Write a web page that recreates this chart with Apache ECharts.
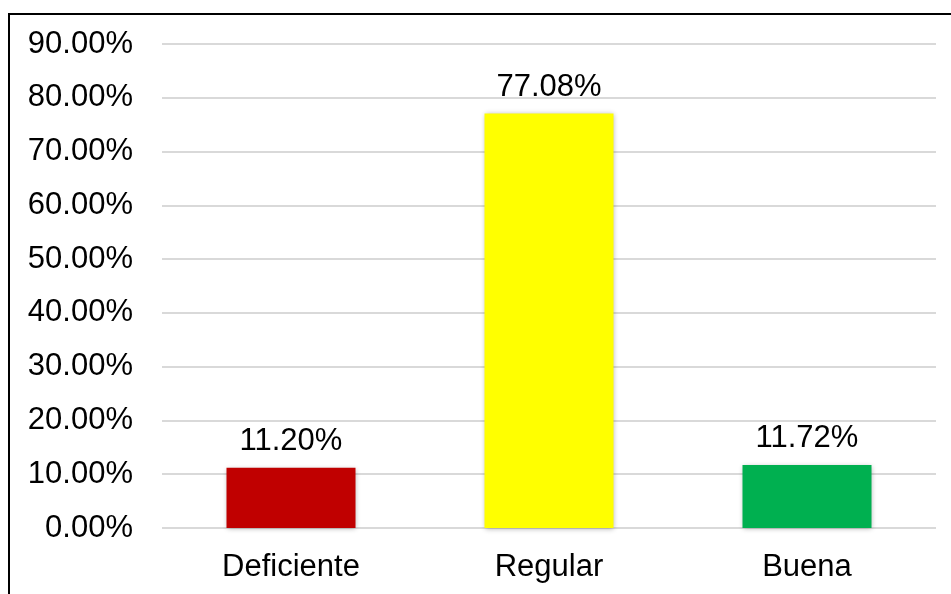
<!DOCTYPE html>
<html lang="es">
<head>
    <meta charset="UTF-8">
    <title>Nivel</title>
    <script src="https://cdn.jsdelivr.net/npm/echarts/dist/echarts.min.js"></script>
    <style>
        html, body { margin: 0; padding: 0; background: #fff; }
        #chart { width: 951px; height: 594px; }
    </style>
</head>
<body>
    <div id="chart"></div>
    <script>
        var categories = ['Deficiente', 'Regular', 'Buena'];
        var values = [11.20, 77.08, 11.72];
        var barColors = ['#C00000', '#FFFF00', '#00B050'];

        var myChart = echarts.init(document.getElementById('chart'));
        var fontFam = '"Liberation Sans", Arial, sans-serif';

        var option = {
            animation: false,
            graphic: [{
                type: 'rect',
                shape: { x: 9, y: 14, width: 1200, height: 1200 },
                style: { fill: 'none', stroke: '#000', lineWidth: 2 },
                silent: true
            }],
            grid: { left: 162, right: 15, top: 44, bottom: 66 },
            xAxis: {
                type: 'category',
                data: categories,
                axisLine: { show: false },
                axisTick: { show: false },
                axisLabel: { color: '#000', fontSize: 31, fontFamily: fontFam, margin: 24 }
            },
            yAxis: {
                type: 'value',
                min: 0,
                max: 90,
                interval: 10,
                axisLine: { show: false },
                axisTick: { show: false },
                axisLabel: {
                    color: '#000', fontSize: 31, fontFamily: fontFam, margin: 29,
                    formatter: function (v) { return v.toFixed(2) + '%'; }
                },
                splitLine: { lineStyle: { color: '#d9d9d9', width: 2 } }
            },
            series: [{
                type: 'bar',
                barWidth: '50%',
                data: values.map(function (v, i) {
                    return { value: v, itemStyle: { color: barColors[i] } };
                }),
                itemStyle: {
                    shadowBlur: 5,
                    shadowColor: 'rgba(0,0,0,0.3)',
                    shadowOffsetX: 0,
                    shadowOffsetY: 1
                },
                label: {
                    show: true,
                    position: 'top',
                    distance: 11,
                    color: '#000',
                    fontSize: 31,
                    fontFamily: fontFam,
                    formatter: function (p) { return p.value.toFixed(2) + '%'; }
                }
            }]
        };

        myChart.setOption(option);
    </script>
</body>
</html>
